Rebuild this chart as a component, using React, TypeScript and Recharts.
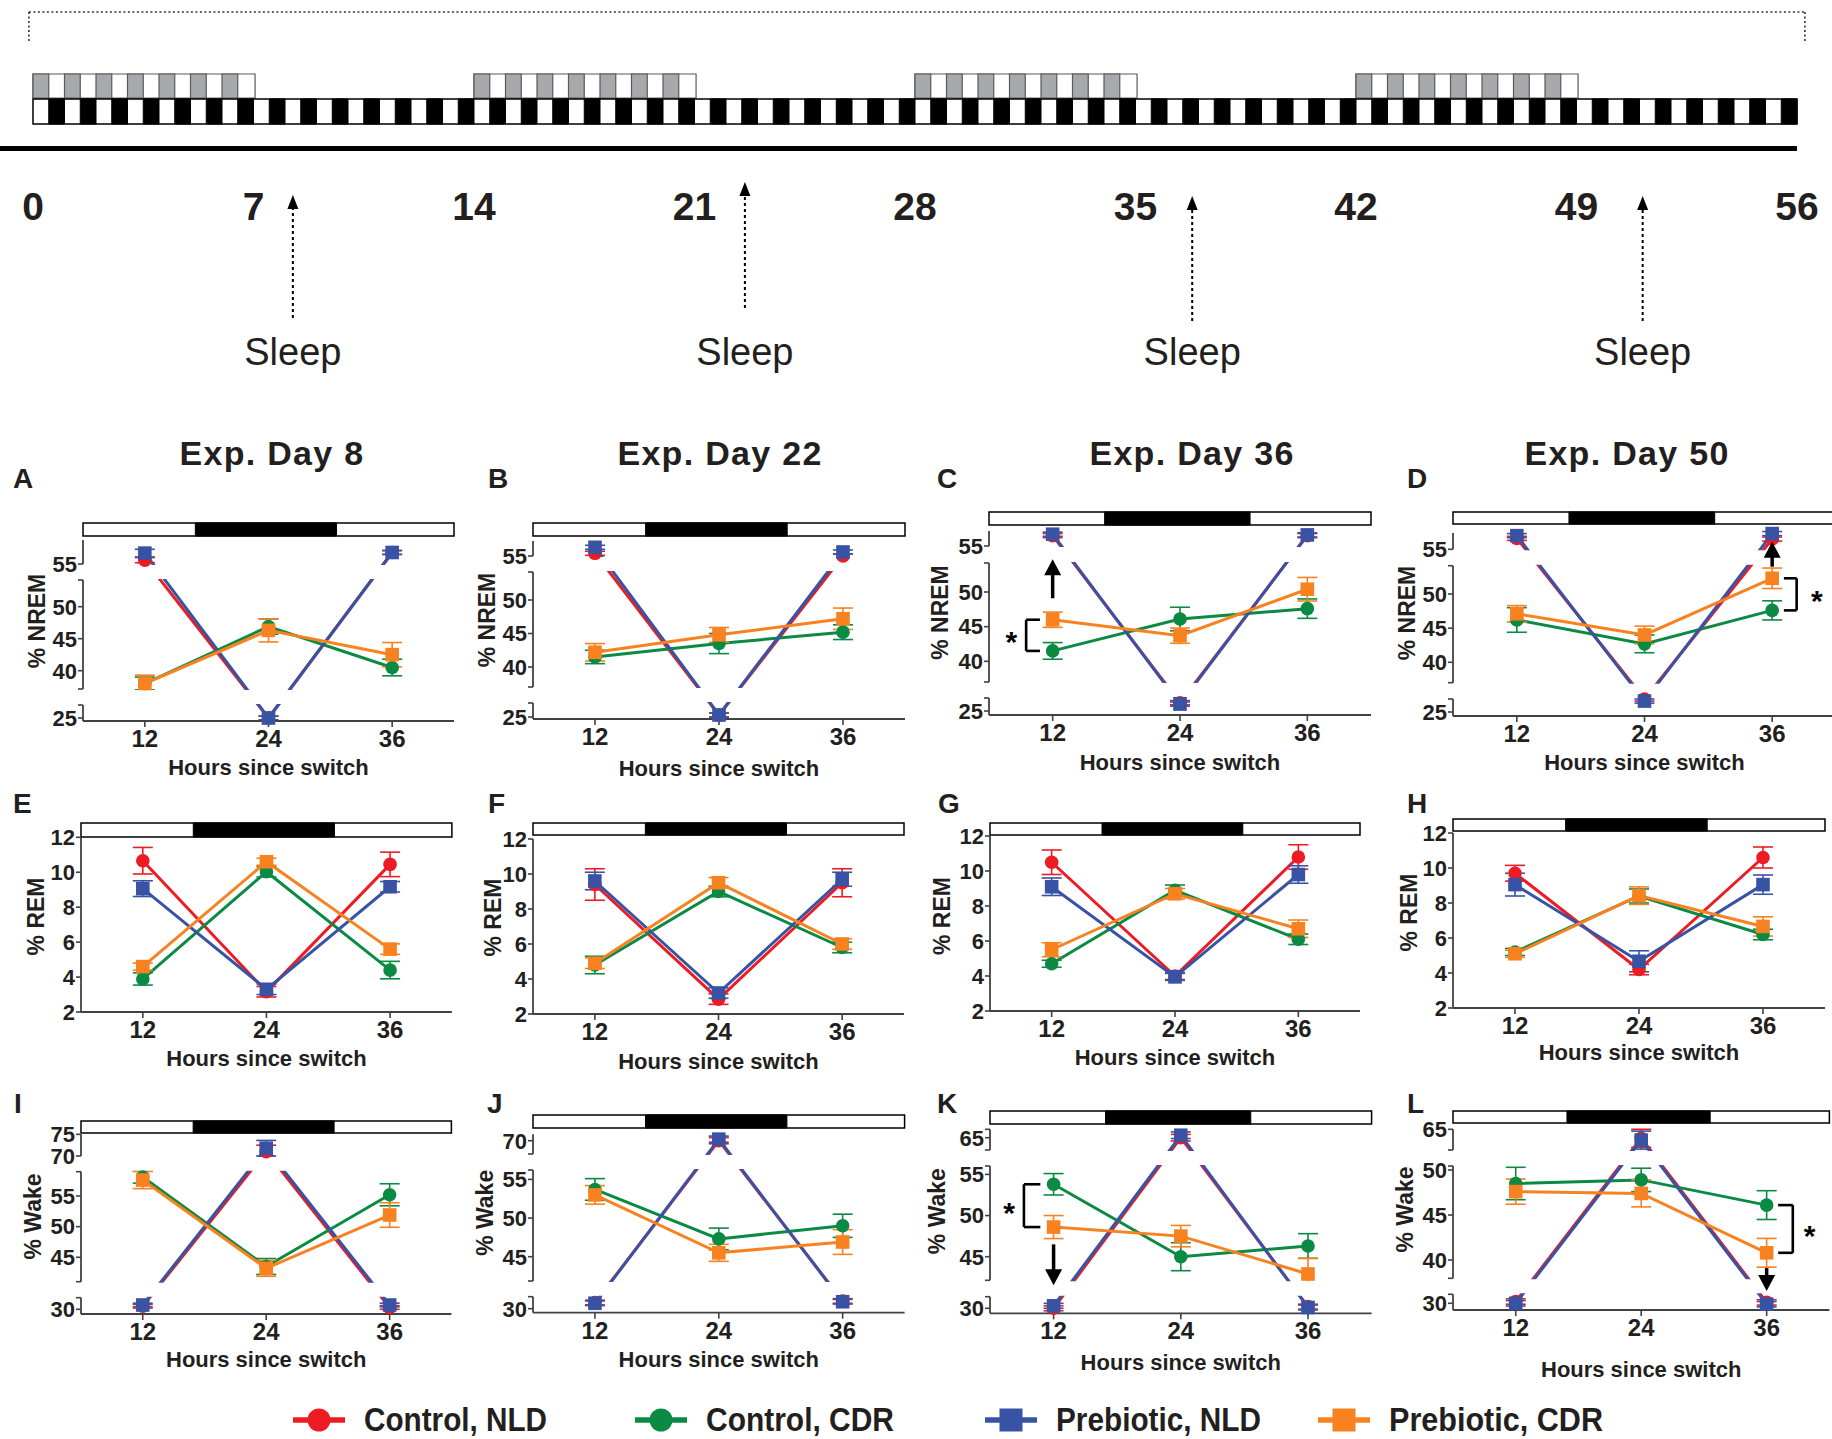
import React from "react";
import {
  ComposedChart,
  LineChart,
  Line,
  XAxis,
  YAxis,
  ErrorBar,
  ReferenceArea,
  ReferenceLine,
  ReferenceDot,
} from "recharts";

/* ────────── sleep architecture across the light/dark shifts ────────── */

const FONT = '"Liberation Sans", Arial, Helvetica, sans-serif';
const INK = "#231f20";
const AXIS = "#414042";

// timeline (experimental days)
const dayTicks = [0, 7, 14, 21, 28, 35, 42, 49, 56];
const lightBlocks = [
  [0, 7],
  [14, 21],
  [28, 35],
  [42, 49],
];
const sleepDays = [8.25, 22.6, 36.8, 51.1];
const sleepTips = [195, 182, 196, 196];
const sleepTails = [318, 308, 321, 321];

// panels: rows follow `groups`, columns follow `hours`
const hours = [12, 24, 36];
const groups = ["Control, NLD", "Control, CDR", "Prebiotic, NLD", "Prebiotic, CDR"];
const groupColors = ["#ed1c24", "#0b8a44", "#3953a4", "#f7821f"];
const groupShapes = ["circle", "circle", "square", "square"];
const nightHours = [16.9, 30.6];

const nremDay8 = [[55.6, 25.0, 56.8], [38.0, 46.9, 40.5], [56.7, 25.0, 56.8], [38.0, 46.3, 42.5]];
const nremDay8Sem = [[0.4, 0.3, 0.3], [1.0, 1.2, 1.3], [0.6, 0.3, 0.3], [1.3, 1.8, 1.9]];
const nremDay22 = [[55.4, 25.3, 55.0], [41.5, 43.5, 45.2], [56.3, 25.3, 55.6], [42.2, 44.8, 47.2]];
const nremDay22Sem = [[0.3, 0.3, 0.3], [1.0, 1.5, 1.1], [0.3, 0.3, 0.3], [1.3, 1.1, 1.6]];
const nremDay36 = [[56.5, 26.2, 56.5], [41.5, 46.1, 47.6], [56.7, 26.0, 56.6], [46.0, 43.7, 50.4]];
const nremDay36Sem = [[0.3, 0.3, 0.3], [1.2, 1.7, 1.4], [0.3, 0.3, 0.3], [1.1, 1.1, 1.7]];
const nremDay50 = [[56.6, 26.9, 56.5], [46.2, 42.7, 47.6], [57.0, 26.6, 57.3], [47.1, 44.0, 52.3]];
const nremDay50Sem = [[0.3, 0.3, 0.3], [1.8, 1.3, 1.4], [0.3, 0.3, 0.3], [1.2, 1.3, 1.5]];

const remDay8 = [[10.66, 3.16, 10.45], [3.89, 10.03, 4.4], [9.06, 3.3, 9.17], [4.6, 10.6, 5.6]];
const remDay8Sem = [[0.76, 0.3, 0.7], [0.35, 0.3, 0.5], [0.45, 0.3, 0.3], [0.2, 0.2, 0.3]];
const remDay22 = [[9.4, 2.85, 9.5], [4.8, 9.0, 5.8], [9.6, 3.2, 9.7], [4.9, 9.5, 6.0]];
const remDay22Sem = [[0.9, 0.3, 0.8], [0.5, 0.3, 0.3], [0.5, 0.3, 0.4], [0.3, 0.3, 0.3]];
const remDay36 = [[10.5, 4.0, 10.8], [4.7, 8.9, 6.1], [9.1, 3.95, 9.8], [5.5, 8.7, 6.7]];
const remDay36Sem = [[0.7, 0.2, 0.7], [0.2, 0.3, 0.3], [0.5, 0.2, 0.5], [0.4, 0.3, 0.5]];
const remDay50 = [[9.7, 4.2, 10.6], [5.2, 8.4, 6.2], [9.05, 4.67, 9.05], [5.1, 8.42, 6.66]];
const remDay50Sem = [[0.45, 0.3, 0.6], [0.2, 0.4, 0.3], [0.65, 0.6, 0.55], [0.2, 0.5, 0.55]];

const wakeDay8 = [[30.5, 71.0, 30.3], [58.1, 43.5, 55.2], [30.7, 71.8, 30.7], [57.6, 43.2, 51.9]];
const wakeDay8Sem = [[0.3, 1.5, 0.3], [1.0, 1.3, 1.8], [0.3, 1.8, 0.3], [1.4, 1.3, 2.0]];
const wakeDay22 = [[30.8, 70.0, 31.0], [53.7, 47.3, 49.0], [30.7, 70.2, 30.9], [53.0, 45.5, 46.9]];
const wakeDay22Sem = [[0.3, 0.4, 0.3], [1.4, 1.4, 1.5], [0.3, 0.4, 0.3], [1.2, 1.1, 1.6]];
const wakeDay36 = [[30.0, 65.0, 30.2], [53.8, 45.0, 46.3], [30.3, 65.3, 30.1], [48.6, 47.5, 42.9]];
const wakeDay36Sem = [[0.3, 0.4, 0.3], [1.3, 1.7, 1.5], [0.3, 0.4, 0.3], [1.4, 1.3, 1.9]];
const wakeDay50 = [[30.2, 64.0, 30.1], [48.5, 48.9, 46.1], [30.0, 63.8, 29.9], [47.6, 47.4, 40.8]];
const wakeDay50Sem = [[0.3, 1.0, 0.3], [1.8, 1.3, 1.6], [0.3, 1.0, 0.3], [1.4, 1.5, 1.6]];

/* ────────── broken y axis helpers ────────── */

type Seg = { ref: number; refY: number; k: number; top: number; bottom: number; ticks: number[]; caps: number[] };

type Bracket = { side: "left" | "right"; x1: number; x2: number; a: [number, number]; b: [number, number]; starX: number };
type Arrow = { x: number; tail: number; len: number };

type PanelCfg = {
  letter: string;
  letterX: number;
  letterY: number;
  title?: string;
  titleX?: number;
  means: number[][];
  sems: number[][];
  left: number;
  right: number;
  axisY: number;
  barTop: number;
  barBottom: number;
  yTitle: string;
  yTitleX: number;
  xTitleGap: number;
  segs: Seg[];
  bracket?: Bracket;
  arrow?: Arrow;
};

const seg = (ref: number, refY: number, k: number, top: number, bottom: number, ticks: number[], caps: number[] = []): Seg => ({
  ref, refY, k, top, bottom, ticks, caps,
});

function pickSeg(segs: Seg[], v: number) {
  let best = segs[0];
  let bestD = Infinity;
  for (const s of segs) {
    const lo = s.ref - (s.bottom - s.refY) / s.k;
    const hi = s.ref + (s.refY - s.top) / s.k;
    const d = v < lo ? lo - v : v > hi ? v - hi : 0;
    if (d < bestD) {
      bestD = d;
      best = s;
    }
  }
  return best;
}
const toPx = (segs: Seg[], v: number) => {
  const s = pickSeg(segs, v);
  return s.refY - (v - s.ref) * s.k;
};

const remSeg = (bottom: number, top: number) => [seg(2, bottom, (bottom - top) / 10, top, bottom, [12, 10, 8, 6, 4, 2])];

const panels: PanelCfg[] = [
  {
    letter: "A", letterX: 13, letterY: 488, title: "Exp. Day 8", titleX: 272,
    means: nremDay8, sems: nremDay8Sem, left: 83, right: 454, axisY: 721, barTop: 523, barBottom: 536,
    yTitle: "% NREM", yTitleX: 37, xTitleGap: 54,
    segs: [seg(55, 564, 6.4, 540, 564, [55]), seg(40, 670.7, 6.4, 580, 689, [50, 45, 40], [580, 689]), seg(25, 718, 6.4, 705, 721, [25], [705])],
  },
  {
    letter: "B", letterX: 488, letterY: 488, title: "Exp. Day 22", titleX: 720,
    means: nremDay22, sems: nremDay22Sem, left: 533, right: 905, axisY: 719, barTop: 523, barBottom: 536,
    yTitle: "% NREM", yTitleX: 487, xTitleGap: 57,
    segs: [seg(55, 556, 6.7, 541, 556, [55]), seg(40, 667, 6.7, 572, 687, [50, 45, 40], [572, 687]), seg(25, 717, 6.7, 703, 719, [25], [703])],
  },
  {
    letter: "C", letterX: 937, letterY: 488, title: "Exp. Day 36", titleX: 1192,
    means: nremDay36, sems: nremDay36Sem, left: 989, right: 1371, axisY: 715, barTop: 512, barBottom: 525,
    yTitle: "% NREM", yTitleX: 940, xTitleGap: 55,
    segs: [seg(55, 546, 6.93, 531, 546, [55]), seg(40, 661.3, 6.93, 563, 682, [50, 45, 40], [563, 682]), seg(25, 711, 6.93, 698, 715, [25], [698])],
    bracket: { side: "left", x1: 9.5, x2: 10.8, a: [3, 0], b: [1, 0], starX: 8.1 },
    arrow: { x: 12, tail: 49.1, len: -39 },
  },
  {
    letter: "D", letterX: 1407, letterY: 488, title: "Exp. Day 50", titleX: 1627,
    means: nremDay50, sems: nremDay50Sem, left: 1453, right: 1836, axisY: 716, barTop: 512, barBottom: 524,
    yTitle: "% NREM", yTitleX: 1407, xTitleGap: 54,
    segs: [seg(55, 549.3, 6.83, 533, 549.3, [55]), seg(40, 662.3, 6.83, 565.7, 682.7, [50, 45, 40], [565.7, 682.7]), seg(25, 712, 6.83, 699, 716, [25], [699])],
    bracket: { side: "right", x1: 37.1, x2: 38.3, a: [3, 2], b: [1, 2], starX: 40.2 },
    arrow: { x: 36, tail: 54.0, len: -25 },
  },
  {
    letter: "E", letterX: 13, letterY: 813,
    means: remDay8, sems: remDay8Sem, left: 80.6, right: 451.5, axisY: 1012, barTop: 823, barBottom: 837,
    yTitle: "% REM", yTitleX: 35, xTitleGap: 54, segs: remSeg(1012, 837.3),
  },
  {
    letter: "F", letterX: 488, letterY: 813,
    means: remDay22, sems: remDay22Sem, left: 533, right: 904, axisY: 1014, barTop: 823, barBottom: 835,
    yTitle: "% REM", yTitleX: 493, xTitleGap: 55, segs: remSeg(1014, 839),
  },
  {
    letter: "G", letterX: 938, letterY: 813,
    means: remDay36, sems: remDay36Sem, left: 990, right: 1360, axisY: 1011, barTop: 823, barBottom: 835,
    yTitle: "% REM", yTitleX: 942, xTitleGap: 54, segs: remSeg(1011, 836),
  },
  {
    letter: "H", letterX: 1407, letterY: 813,
    means: remDay50, sems: remDay50Sem, left: 1453, right: 1825, axisY: 1008, barTop: 819, barBottom: 831,
    yTitle: "% REM", yTitleX: 1409, xTitleGap: 52, segs: remSeg(1008, 833),
  },
  {
    letter: "I", letterX: 14, letterY: 1113,
    means: wakeDay8, sems: wakeDay8Sem, left: 80.6, right: 451, axisY: 1314, barTop: 1121, barBottom: 1133,
    yTitle: "% Wake", yTitleX: 32, xTitleGap: 53,
    segs: [seg(70, 1156, 4.33, 1134.3, 1156, [75, 70]), seg(45, 1257.3, 6.13, 1171.7, 1281.7, [55, 50, 45], [1171.7, 1281.7]), seg(30, 1309.3, 6.13, 1297.7, 1314, [30], [1297.7])],
  },
  {
    letter: "J", letterX: 487, letterY: 1113,
    means: wakeDay22, sems: wakeDay22Sem, left: 533, right: 904.6, axisY: 1312.7, barTop: 1115, barBottom: 1128,
    yTitle: "% Wake", yTitleX: 485, xTitleGap: 54,
    segs: [seg(70, 1140.7, 7.73, 1134.3, 1154, [70], [1154]), seg(45, 1256.7, 7.73, 1170, 1281, [55, 50, 45], [1170, 1281]), seg(30, 1308.7, 7.73, 1296.7, 1312.7, [30], [1296.7])],
  },
  {
    letter: "K", letterX: 937, letterY: 1113,
    means: wakeDay36, sems: wakeDay36Sem, left: 989.7, right: 1371.3, axisY: 1313.3, barTop: 1111, barBottom: 1124,
    yTitle: "% Wake", yTitleX: 937, xTitleGap: 57,
    segs: [seg(65, 1137.7, 8.23, 1129.3, 1150, [65], [1129.3, 1150]), seg(45, 1256.7, 8.23, 1166, 1280.3, [55, 50, 45], [1166, 1280.3]), seg(30, 1308.3, 8.23, 1296.7, 1313.3, [30], [1296.7])],
    bracket: { side: "left", x1: 9.2, x2: 10.75, a: [1, 0], b: [3, 0], starX: 7.8 },
    arrow: { x: 12, tail: 46.5, len: 41 },
  },
  {
    letter: "L", letterX: 1407, letterY: 1113,
    means: wakeDay50, sems: wakeDay50Sem, left: 1453, right: 1829.4, axisY: 1310, barTop: 1111, barBottom: 1123,
    yTitle: "% Wake", yTitleX: 1405, xTitleGap: 67,
    segs: [seg(65, 1129.3, 9, 1129.3, 1150, [65], [1150]), seg(40, 1260, 9, 1166, 1278.3, [50, 45, 40], [1166, 1278.3]), seg(30, 1303.3, 9, 1294.3, 1310, [30], [1294.3])],
    bracket: { side: "right", x1: 37.1, x2: 38.5, a: [1, 2], b: [3, 2], starX: 40.1 },
    arrow: { x: 36, tail: 39.1, len: 23 },
  },
];

/* ────────── marks ────────── */

const makeDot = (shape: string, color: string, size: number) => (p: any) => {
  const { cx, cy, index } = p;
  if (cx == null || cy == null) return <g key={`d${index}`} />;
  return shape === "circle" ? (
    <circle key={`d${index}`} cx={cx} cy={cy} r={size / 2} fill={color} />
  ) : (
    <rect key={`d${index}`} x={cx - size / 2} y={cy - size / 2} width={size} height={size} fill={color} />
  );
};

const arrowHead = (dir: number, w: number, h: number) => (p: any) => {
  const { cx, cy } = p;
  return <path d={`M${cx},${cy} L${cx - w / 2},${cy - dir * h} L${cx + w / 2},${cy - dir * h} Z`} fill="#000" />;
};

const YW = 80;
const XH = 80;
const MT = 2;
const MR = 2;

function Panel({ p }: { p: PanelCfg }) {
  const plotTop = p.barTop - 2;
  const chartLeft = p.left - YW;
  const chartTop = plotTop - MT;
  const w = YW + (p.right - p.left) + MR;
  const h = MT + (p.axisY - plotTop) + XH;

  const rows = hours.map((hr, i) => {
    const r: any = { h: hr };
    p.means.forEach((m, s) => {
      const sg = pickSeg(p.segs, m[i]);
      r[`v${s}`] = sg.refY - (m[i] - sg.ref) * sg.k;
      r[`e${s}`] = p.sems[s][i] * sg.k;
    });
    return r;
  });

  const tickPx: number[] = [];
  const tickLabel = new Map<string, string>();
  p.segs.forEach((s) => {
    s.ticks.forEach((t) => {
      const y = s.refY - (t - s.ref) * s.k;
      tickPx.push(y);
      tickLabel.set(y.toFixed(2), String(t));
    });
    s.caps.forEach((c) => tickPx.push(c));
  });
  const gaps = p.segs.slice(1).map((s, i) => [p.segs[i].bottom, s.top]);

  const br = p.bracket;
  let bracketEls: React.ReactNode = null;
  if (br) {
    const ya = toPx(p.segs, p.means[br.a[0]][br.a[1]]);
    const yb = toPx(p.segs, p.means[br.b[0]][br.b[1]]);
    const xv = br.side === "left" ? br.x1 : br.x2;
    const st = { stroke: "#000", strokeWidth: 2.6, ifOverflow: "visible" as const, zIndex: 700 };
    bracketEls = (
      <>
        <ReferenceLine segment={[{ x: xv, y: ya }, { x: xv, y: yb }]} {...st} />
        <ReferenceLine segment={[{ x: br.x1, y: ya }, { x: br.x2, y: ya }]} {...st} />
        <ReferenceLine segment={[{ x: br.x1, y: yb }, { x: br.x2, y: yb }]} {...st} />
        <ReferenceDot
          x={br.starX}
          y={(ya + yb) / 2}
          r={1}
          zIndex={700}
          shape={(q: any) => (
            <text x={q.cx} y={q.cy + 17} textAnchor="middle" fontSize={30} fontWeight={700} fontFamily={FONT} fill="#000">
              *
            </text>
          )}
        />
      </>
    );
  }
  const ar = p.arrow;
  let arrowEls: React.ReactNode = null;
  if (ar) {
    const tail = toPx(p.segs, ar.tail);
    const tip = tail + ar.len;
    const dir = ar.len > 0 ? 1 : -1;
    arrowEls = (
      <>
        <ReferenceLine
          segment={[{ x: ar.x, y: tail }, { x: ar.x, y: tip - dir * 12 }]}
          stroke="#000"
          strokeWidth={3.5}
          ifOverflow="visible"
          zIndex={700}
        />
        <ReferenceDot x={ar.x} y={tip} r={1} zIndex={700} shape={arrowHead(dir, 17, 16)} />
      </>
    );
  }

  return (
    <div style={{ position: "absolute", left: chartLeft, top: chartTop }}>
      <LineChart width={w} height={h} data={rows} margin={{ top: MT, right: MR, left: 0, bottom: 0 }}>
        <XAxis
          type="number"
          dataKey="h"
          domain={[6, 42]}
          ticks={hours}
          interval={0}
          height={XH}
          tickSize={6}
          tickMargin={3}
          axisLine={{ stroke: AXIS, strokeWidth: 1.8 }}
          tickLine={{ stroke: AXIS, strokeWidth: 1.6 }}
          tick={{ fill: INK, fontSize: 24, fontWeight: 700, fontFamily: FONT }}
          label={{
            value: "Hours since switch",
            position: "insideBottom",
            offset: XH - p.xTitleGap,
            fill: INK,
            fontSize: 22,
            fontWeight: 700,
            fontFamily: FONT,
          }}
        />
        <YAxis
          type="number"
          domain={[plotTop, p.axisY]}
          reversed
          ticks={tickPx}
          interval={0}
          width={YW}
          axisLine={false}
          tickSize={5}
          tickMargin={1}
          tickLine={{ stroke: AXIS, strokeWidth: 1.6 }}
          tick={{ fill: INK, fontSize: 22, fontWeight: 700, fontFamily: FONT }}
          tickFormatter={(v: any) => tickLabel.get(Number(v).toFixed(2)) ?? ""}
          label={{
            value: p.yTitle,
            angle: -90,
            position: "insideLeft",
            offset: p.yTitleX - chartLeft,
            fill: INK,
            fontSize: 23,
            fontWeight: 700,
            fontFamily: FONT,
            style: { textAnchor: "middle" },
          }}
        />
        <ReferenceArea x1={6} x2={42} y1={p.barTop} y2={p.barBottom} fill="#fff" fillOpacity={1} stroke="#000" strokeWidth={1.5} />
        <ReferenceArea x1={nightHours[0]} x2={nightHours[1]} y1={p.barTop} y2={p.barBottom} fill="#000" fillOpacity={1} stroke="#000" strokeWidth={1} />
        {p.segs.map((s, i) => (
          <ReferenceLine
            key={`ax${i}`}
            segment={[{ x: 6, y: s.top }, { x: 6, y: s.bottom }]}
            stroke={AXIS}
            strokeWidth={1.8}
            ifOverflow="visible"
          />
        ))}
        {groups.map((g, s) => (
          <Line
            key={g}
            dataKey={`v${s}`}
            type="linear"
            stroke={groupColors[s]}
            strokeWidth={3}
            dot={makeDot(groupShapes[s], groupColors[s], 13.6)}
            activeDot={false}
            isAnimationActive={false}
          >
            <ErrorBar dataKey={`e${s}`} width={10} stroke={groupColors[s]} strokeWidth={1.6} direction="y" />
          </Line>
        ))}
        {gaps.map(([a, b], i) => (
          <ReferenceArea key={`gap${i}`} x1={6} x2={42} y1={a + 1} y2={b - 1} fill="#fff" fillOpacity={1} stroke="none" zIndex={450} />
        ))}
        {bracketEls}
        {arrowEls}
      </LineChart>
    </div>
  );
}

function Timeline() {
  // a flat invisible series keeps both axes live
  const rows = dayTicks.map((d) => ({ d, y: 200 }));
  const topCells: number[] = [];
  lightBlocks.forEach(([a, b]) => {
    for (let d = a; d < b; d++) topCells.push(d);
  });
  const bottomCells: number[] = [];
  for (let d = 0; d < 56; d++) bottomCells.push(d);
  const dotted = { stroke: "#333", strokeWidth: 1.6, strokeDasharray: "2 2.5", ifOverflow: "visible" as const };
  return (
    <div style={{ position: "absolute", left: 0, top: 0 }}>
      <ComposedChart width={1832} height={400} data={rows} margin={{ top: 0, right: 35, left: 33, bottom: 0 }}>
        <XAxis type="number" dataKey="d" domain={[0, 56]} allowDataOverflow hide />
        <YAxis type="number" domain={[0, 400]} allowDataOverflow reversed hide />
        <Line dataKey="y" stroke="none" dot={false} activeDot={false} isAnimationActive={false} />
        {/* dotted bracket */}
        <ReferenceLine segment={[{ x: -0.13, y: 12 }, { x: 56.25, y: 12 }]} {...dotted} />
        <ReferenceLine segment={[{ x: -0.13, y: 12 }, { x: -0.13, y: 41 }]} {...dotted} />
        <ReferenceLine segment={[{ x: 56.25, y: 12 }, { x: 56.25, y: 41 }]} {...dotted} />
        {/* light / dark schedule */}
        {lightBlocks.map(([a, b], i) => (
          <ReferenceArea key={`lb${i}`} x1={a} x2={b + 0.05} y1={74} y2={98} fill="#fff" fillOpacity={1} stroke="#58595b" strokeWidth={1.2} ifOverflow="visible" />
        ))}
        {topCells.map((d) => (
          <ReferenceArea key={`tc${d}`} x1={d} x2={d + 0.5} y1={74} y2={98} fill="#a7a9ac" fillOpacity={1} stroke="#58595b" strokeWidth={1.2} ifOverflow="visible" />
        ))}
        <ReferenceArea x1={0} x2={56} y1={99} y2={124} fill="#fff" fillOpacity={1} stroke="#000" strokeWidth={1.5} ifOverflow="visible" />
        {bottomCells.map((d) => (
          <ReferenceArea key={`bc${d}`} x1={d + 0.5} x2={d + 1} y1={99} y2={124} fill="#000" fillOpacity={1} stroke="#000" strokeWidth={1} ifOverflow="visible" />
        ))}
        <ReferenceLine segment={[{ x: -1.05, y: 148.5 }, { x: 56, y: 148.5 }]} stroke="#000" strokeWidth={5} ifOverflow="visible" />
        {dayTicks.map((d) => (
          <ReferenceDot
            key={`dl${d}`}
            x={d}
            y={220}
            r={1}
            ifOverflow="visible"
            shape={(q: any) => (
              <text x={q.cx} y={q.cy} textAnchor="middle" fontSize={39} fontWeight={700} fontFamily={FONT} fill={INK}>
                {d}
              </text>
            )}
          />
        ))}
        {sleepDays.map((d, i) => (
          <ReferenceLine
            key={`sl${i}`}
            segment={[{ x: d, y: sleepTails[i] }, { x: d, y: sleepTips[i] + 10 }]}
            stroke="#000"
            strokeWidth={2}
            strokeDasharray="3 3"
            ifOverflow="visible"
          />
        ))}
        {sleepDays.map((d, i) => (
          <ReferenceDot key={`sh${i}`} x={d} y={sleepTips[i]} r={1} ifOverflow="visible" shape={arrowHead(-1, 11, 14)} />
        ))}
        {sleepDays.map((d, i) => (
          <ReferenceDot
            key={`st${i}`}
            x={d}
            y={365}
            r={1}
            ifOverflow="visible"
            shape={(q: any) => (
              <text x={q.cx} y={q.cy} textAnchor="middle" fontSize={38} fontFamily={FONT} fill={INK}>
                Sleep
              </text>
            )}
          />
        ))}
      </ComposedChart>
    </div>
  );
}

const legendX = [319, 661, 1011, 1344];
const legendTextW = [183, 188, 205, 214];

export default function App() {
  return (
    <div style={{ position: "absolute", left: 0, top: 0, width: 1832, height: 1439, overflow: "hidden", background: "#fff" }}>
      <svg width={1832} height={1439} style={{ position: "absolute", left: 0, top: 0 }}>
        {panels.map((p) =>
          p.title ? (
            <text key={`t${p.letter}`} x={p.titleX} y={465} textAnchor="middle" fontSize={34} fontWeight={700} letterSpacing={1.3} fontFamily={FONT} fill={INK}>
              {p.title}
            </text>
          ) : null
        )}
        {panels.map((p) => (
          <text key={`l${p.letter}`} x={p.letterX} y={p.letterY} fontSize={28} fontWeight={700} fontFamily={FONT} fill={INK}>
            {p.letter}
          </text>
        ))}
        {groups.map((g, i) => (
          <g key={g}>
            <line x1={legendX[i] - 26} x2={legendX[i] + 26} y1={1420} y2={1420} stroke={groupColors[i]} strokeWidth={5.5} />
            {groupShapes[i] === "circle" ? (
              <circle cx={legendX[i]} cy={1420} r={11.5} fill={groupColors[i]} />
            ) : (
              <rect x={legendX[i] - 11.5} y={1408.5} width={23} height={23} fill={groupColors[i]} />
            )}
            <text
              x={legendX[i] + 45}
              y={1431}
              fontSize={34}
              fontWeight={700}
              fontFamily={FONT}
              fill={INK}
              textLength={legendTextW[i]}
              lengthAdjust="spacingAndGlyphs"
            >
              {g}
            </text>
          </g>
        ))}
      </svg>
      <Timeline />
      {panels.map((p) => (
        <Panel key={p.letter} p={p} />
      ))}
    </div>
  );
}
